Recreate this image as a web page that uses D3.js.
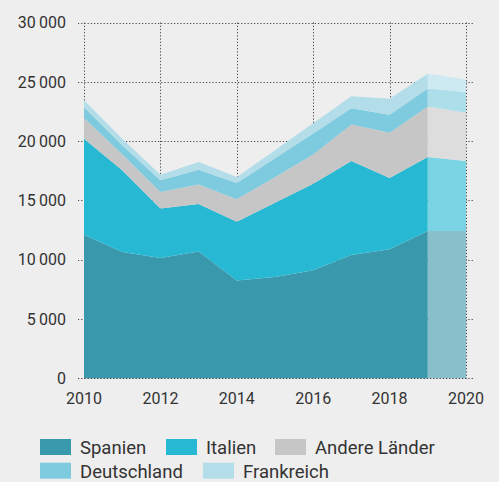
<!DOCTYPE html>
<html>
<head>
<meta charset="utf-8">
<script src="https://cdn.jsdelivr.net/npm/d3@7"></script>
<style>
  html, body { margin: 0; padding: 0; background: #eeeeee; }
  svg { display: block; font-family: Roboto, "Liberation Sans", sans-serif; }
</style>
</head>
<body>
<svg id="chart" width="499" height="482"></svg>
<script>
// Years and per-country values (stacked bottom to top)
const years = [2010, 2011, 2012, 2013, 2014, 2015, 2016, 2017, 2018, 2019, 2020];
const spanien     = [12100, 10650, 10150, 10700, 8250, 8550, 9100, 10400, 10880, 12420, 12420];
const italien     = [8100, 6900, 4160, 4000, 4950, 6250, 7300, 7920, 6010, 6230, 5900];
const andere      = [1750, 1350, 1390, 1650, 1900, 2150, 2460, 3080, 3810, 4270, 4070];
const deutschland = [900, 750, 990, 1240, 1360, 1600, 1790, 1380, 1520, 1520, 1740];
const frankreich  = [600, 550, 480, 640, 510, 680, 850, 1010, 1350, 1230, 1060];

const seriesNames = ["Spanien", "Italien", "Andere Länder", "Deutschland", "Frankreich"];
const seriesValues = [spanien, italien, andere, deutschland, frankreich];
const colors      = ["#3a98ac", "#27b9d3", "#c6c6c6", "#7ecbdf", "#b2dde9"];
const lightColors = ["#87bfcb", "#7ad4e3", "#dddddd", "#addfea", "#cde9f1"];

const yTicks = [0, 5000, 10000, 15000, 20000, 25000, 30000];
const xTicks = [2010, 2012, 2014, 2016, 2018, 2020];
// last year span shown as estimate
const estimateFrom = 2019;

const svg = d3.select("#chart");
const x = d3.scaleLinear().domain([2010, 2020]).range([84, 466]);
const y = d3.scaleLinear().domain([0, 30000]).range([378.3, 22.5]);

const table = years.map((yr, i) => {
  const row = { year: yr };
  seriesNames.forEach((n, k) => row[n] = seriesValues[k][i]);
  return row;
});
const stacked = d3.stack().keys(seriesNames)(table);

const fmt = v => d3.format(",")(v).replace(/,/g, "\u2009");

// grid (behind areas)
const grid = svg.append("g").attr("stroke", "#444").attr("stroke-width", 1)
  .attr("stroke-dasharray", "1.2,2").attr("fill", "none");
grid.selectAll("line.h").data(yTicks.filter(d => d > 0)).join("line")
  .attr("x1", 78).attr("x2", 474)
  .attr("y1", d => Math.round(y(d)) + 0.5).attr("y2", d => Math.round(y(d)) + 0.5);
grid.selectAll("line.v").data(xTicks).join("line")
  .attr("x1", d => Math.round(x(d)) + 0.5).attr("x2", d => Math.round(x(d)) + 0.5)
  .attr("y1", y(30000)).attr("y2", y(0));

const area = d3.area()
  .x(d => x(d.data.year))
  .y0(d => y(d[0]))
  .y1(d => y(d[1]));

const solidIdx = years.filter(yr => yr <= estimateFrom).length;
stacked.forEach((layer, k) => {
  svg.append("path")
    .attr("d", area(layer.slice(0, solidIdx)))
    .attr("fill", colors[k]);
  svg.append("path")
    .attr("d", area(layer.slice(solidIdx - 1)))
    .attr("fill", lightColors[k]);
});

// baseline on top
svg.append("line")
  .attr("x1", 78).attr("x2", 474)
  .attr("y1", Math.round(y(0)) + 0.5).attr("y2", Math.round(y(0)) + 0.5)
  .attr("stroke", "#333").attr("stroke-dasharray", "1.2,2");

// y axis labels
svg.append("g").selectAll("text").data(yTicks).join("text")
  .attr("x", 66).attr("y", d => y(d)).attr("dy", "0.36em")
  .attr("text-anchor", "end").attr("font-size", 16).attr("fill", "#333")
  .text(fmt);

// x axis labels
svg.append("g").selectAll("text").data(xTicks).join("text")
  .attr("x", d => x(d)).attr("y", 403.5)
  .attr("text-anchor", "middle").attr("font-size", 16).attr("fill", "#333")
  .text(d => d);

// legend
const legendPos = [
  { sx: 40, ty: 439 }, { sx: 166, ty: 439 }, { sx: 275, ty: 439 },
  { sx: 40, ty: 462.7 }, { sx: 203, ty: 462.7 }
];
const legend = svg.append("g");
seriesNames.forEach((n, k) => {
  const p = legendPos[k];
  legend.append("rect").attr("x", p.sx).attr("y", p.ty).attr("width", 31).attr("height", 16)
    .attr("fill", colors[k]);
  legend.append("text").attr("x", p.sx + 40).attr("y", p.ty + 15)
    .attr("font-size", 18.5).attr("fill", "#333").text(n);
});
</script>
</body>
</html>
